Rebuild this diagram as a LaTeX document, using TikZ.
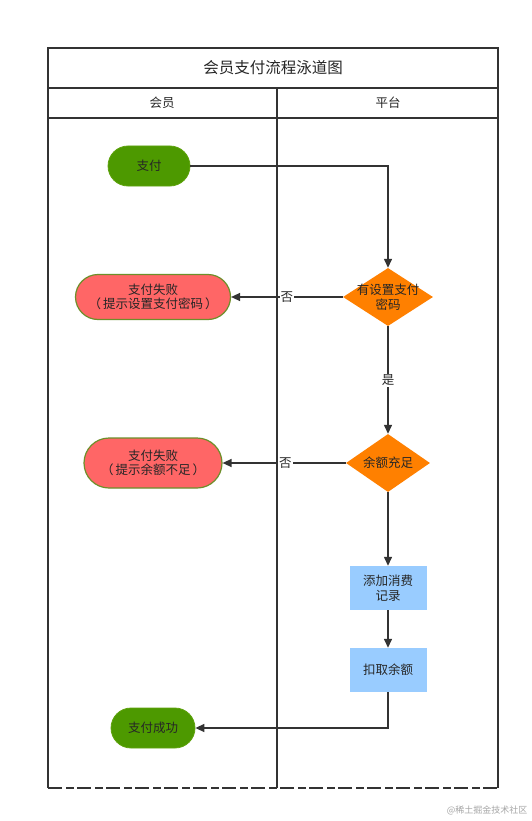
\documentclass[tikz,border=0pt]{standalone}
\usepackage{fontspec}
\setmainfont{Noto Sans CJK SC}
\usetikzlibrary{shapes.geometric,shapes.misc,arrows.meta}
\definecolor{frame}{HTML}{333333}
\definecolor{startg}{HTML}{4D9900}
\definecolor{startb}{HTML}{5FA30E}
\definecolor{failr}{HTML}{FF6666}
\definecolor{failb}{HTML}{6D8F2A}
\definecolor{dorange}{HTML}{FF8000}
\definecolor{pblue}{HTML}{99CCFF}
\tikzset{
  txt/.style={font=\fontsize{12.5}{14.5}\selectfont, text=black!85},
  lane/.style={draw=frame, line width=1.6pt},
  term/.style={rounded rectangle, fill=startg, draw=startb, line width=0.8pt, minimum width=82pt, minimum height=40pt, txt, inner sep=0pt},
  fail/.style={rounded rectangle, fill=failr, draw=failb, line width=1.2pt, minimum height=45pt, txt, align=center, inner sep=0pt},
  dec/.style={diamond, fill=dorange, draw=none, minimum width=90pt, minimum height=58pt, aspect=1.55, txt, align=center, inner sep=-6pt},
  proc/.style={rectangle, fill=pblue, draw=none, minimum width=77pt, minimum height=44pt, txt, align=center, inner sep=0pt},
  flow/.style={draw=frame, line width=1.4pt, -{Triangle[length=9pt,width=8pt]}},
  lbl/.style={fill=white, inner sep=1pt, txt}
}
\begin{document}
\begin{tikzpicture}[x=1pt,y=-1pt]
\useasboundingbox (0,0) rectangle (531,821);
\fill[white] (0,0) rectangle (531,821);
% frame
\draw[lane] (48,788) -- (48,48) -- (498,48) -- (498,788);
\draw[lane, dash pattern=on 14pt off 4pt on 8pt off 3pt] (48,788) -- (498,788);
\draw[lane] (48,88) -- (498,88);
\draw[lane] (48,118) -- (498,118);
\draw[lane] (277,88) -- (277,788);
\node[font=\fontsize{15.5}{17}\selectfont, text=black!85] (title) at (273,68) {会员支付流程泳道图};
\node[txt] (h1) at (162,103) {会员};
\node[txt] (h2) at (388,103) {平台};
% nodes
\node[term] (start) at (149,166) {支付};
\node[dec] (d1) at (388,297) {有设置支付\\密码};
\node[fail, minimum width=155pt] (f1) at (153,297) {支付失败\\（\hspace{2pt}提示设置支付密码\hspace{2pt}）};
\node[dec, minimum width=84pt] (d2) at (388,463) {余额充足};
\node[fail, minimum width=138pt, minimum height=50pt] (f2) at (153,463) {支付失败\\（\hspace{2pt}提示余额不足\hspace{2pt}）};
\node[proc] (p1) at (388,588) {添加消费\\记录};
\node[proc] (p2) at (388,670) {扣取余额};
\node[term, minimum width=84pt] (ok) at (153,728) {支付成功};
% edges
\draw[flow] (start.east) -| (d1.north);
\draw[flow] (d1.west) -- node[lbl, pos=0.5] {否} (f1.east);
\draw[flow] (d1.south) -- node[lbl] {是} (d2.north);
\draw[flow] (d2.west) -- node[lbl, pos=0.49] {否} (f2.east);
\draw[flow] (d2.south) -- (p1.north);
\draw[flow] (p1.south) -- (p2.north);
\draw[flow] (p2.south) |- (ok.east);
\node[font=\fontsize{9}{11}\selectfont, text=black!35, anchor=east] (wm) at (531,810) {@稀土掘金技术社区};
\end{tikzpicture}
\end{document}
